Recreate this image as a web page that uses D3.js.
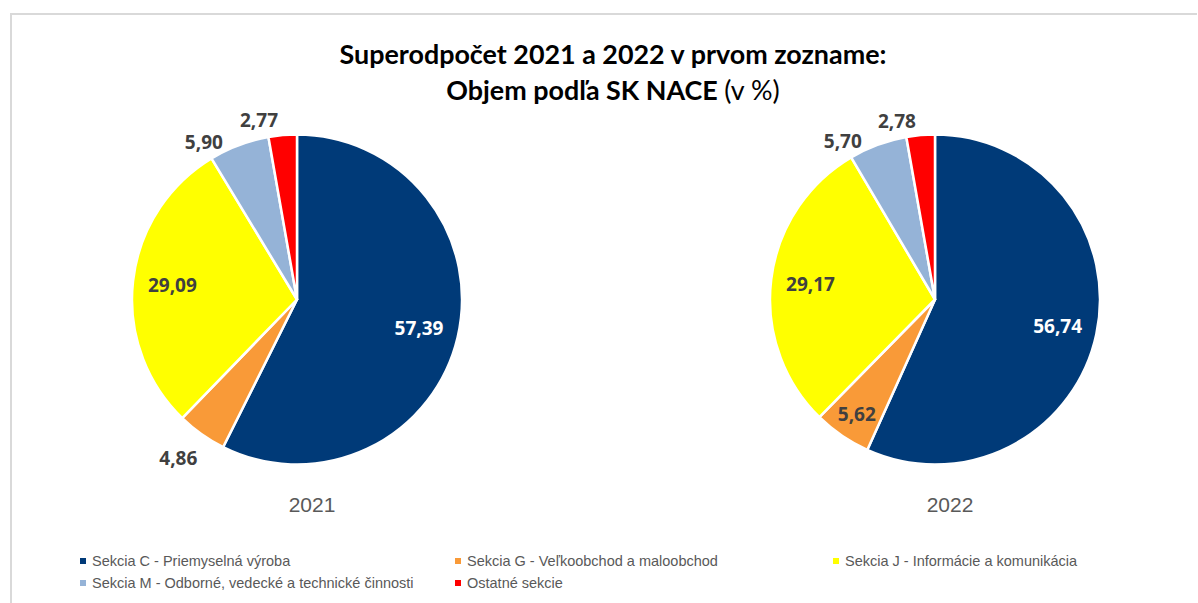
<!DOCTYPE html>
<html>
<head>
<meta charset="utf-8">
<script src="https://cdn.jsdelivr.net/npm/d3@7"></script>
<style>
  body { margin: 0; background: #fff; }
  svg { display: block; }
</style>
</head>
<body>
<div id="chart"></div>
<script>
// categories and values (%)
var categories = ["Sekcia C - Priemyselná výroba", "Sekcia G - Veľkoobchod a maloobchod",
  "Sekcia J - Informácie a komunikácia", "Sekcia M - Odborné, vedecké a technické činnosti",
  "Ostatné sekcie"];
var years = ["2021", "2022"];
var values2021 = [57.39, 4.86, 29.09, 5.90, 2.77];
var values2022 = [56.74, 5.62, 29.17, 5.70, 2.78];
var colors = ["#003a78", "#f99a38", "#ffff00", "#95b3d7", "#ff0000"];

// label placement per year (inside / outside) and small angle nudge for crowded top labels
var place2021 = ["in", "out", "in", "out", "out"];
var place2022 = ["in", "in", "in", "out", "out"];
var nudge = [0, 1.5, 0, -10, -7];

var width = 1198, height = 603;
var R = 165;

var svg = d3.select("#chart").append("svg")
  .attr("width", width)
  .attr("height", height);

// frame
svg.append("path")
  .attr("d", "M11,614 L11,14 L1197,14")
  .attr("fill", "none")
  .attr("stroke", "#d9d9d9")
  .attr("stroke-width", 2);

// title
var title = svg.append("text")
  .attr("text-anchor", "middle")
  .style("font-family", "Lato, sans-serif")
  .style("font-size", "27px")
  .style("font-weight", "bold")
  .attr("fill", "#000");
var t1 = title.append("tspan").attr("x", 613).attr("y", 64).text("Superodpočet 2021 a 2022 v prvom zozname:");
var t2 = title.append("tspan").attr("x", 613).attr("y", 100);
t2.append("tspan").text("Objem podľa SK NACE ");
t2.append("tspan").style("font-weight", "normal").text("(v %)");
// fit first line to the width seen in the original
var w1 = t1.node().getComputedTextLength();
title.style("font-size", (27 * 547 / w1) + "px");

var fmt = d3.formatLocale({decimal: ",", thousands: " ", grouping: [3], currency: ["", ""]}).format(".2f");

var pie = d3.pie().sort(null).value(function(d) { return d; });
var arc = d3.arc().innerRadius(0).outerRadius(R);

var x = d3.scaleOrdinal().domain(years).range([297, 935]);
var cy = 299.5;

function drawPie(year, values, place) {
  var g = svg.append("g")
    .attr("transform", "translate(" + x(year) + "," + cy + ")");
  var arcs = pie(values);

  g.selectAll("path")
    .data(arcs)
    .enter().append("path")
    .attr("d", arc)
    .attr("fill", function(d, i) { return colors[i]; })
    .attr("stroke", "#fff")
    .attr("stroke-width", 2.5)
    .attr("stroke-linejoin", "round");

  g.selectAll("text.lbl")
    .data(arcs)
    .enter().append("text")
    .attr("class", "lbl")
    .attr("text-anchor", "middle")
    .attr("dominant-baseline", "central")
    .style("font-family", "'Open Sans', sans-serif")
    .style("font-size", "19px")
    .style("font-weight", "bold")
    .attr("fill", function(d, i) { return i === 0 ? "#fff" : "#404040"; })
    .attr("transform", function(d, i) {
      var a = (d.startAngle + d.endAngle) / 2;
      var r;
      if (place[i] === "in") {
        r = (d.endAngle - d.startAngle) > 1 ? R * 0.76 : R * 0.84;
      } else {
        a += nudge[i] * Math.PI / 180;
        r = R + 18 + (Math.cos(a) < 0 ? 15 : 0);
      }
      return "translate(" + (Math.sin(a) * r) + "," + (-Math.cos(a) * r) + ")";
    })
    .text(function(d) { return fmt(d.data); });

  svg.append("text")
    .attr("x", x(year) + 15)
    .attr("y", 512)
    .attr("text-anchor", "middle")
    .style("font-family", "'Liberation Sans Narrow', 'Arial Narrow', sans-serif")
    .style("font-size", "21px")
    .attr("fill", "#595959")
    .text(year);
}

drawPie("2021", values2021, place2021);
drawPie("2022", values2022, place2022);

// legend
var legX = [80, 455, 833];
var legY = [561, 583];
var leg = svg.append("g");
categories.forEach(function(c, i) {
  var col = i % 3, row = Math.floor(i / 3);
  var lg = leg.append("g").attr("transform", "translate(" + legX[col] + "," + legY[row] + ")");
  lg.append("rect")
    .attr("x", 0).attr("y", -3)
    .attr("width", 6).attr("height", 6)
    .attr("fill", colors[i]);
  lg.append("text")
    .attr("x", 12).attr("y", 0)
    .attr("dominant-baseline", "central")
    .style("font-family", "'Liberation Sans Narrow', 'Arial Narrow', sans-serif")
    .style("font-size", "14.5px")
    .attr("fill", "#595959")
    .text(c);
});
</script>
</body>
</html>
